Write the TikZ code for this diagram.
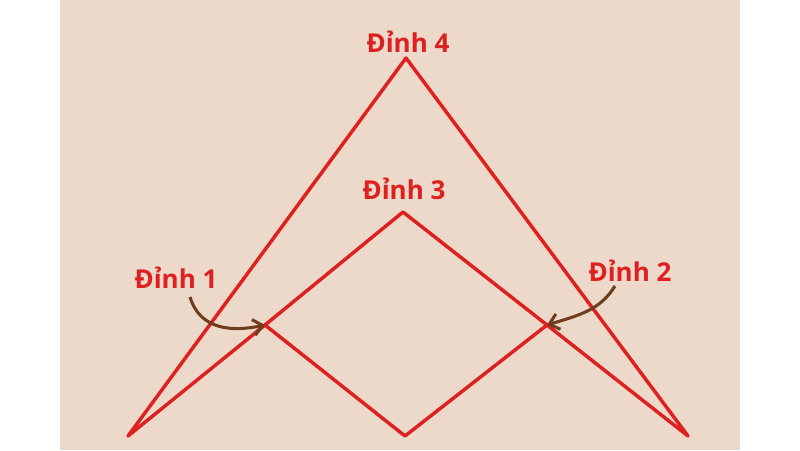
\documentclass[tikz,border=0pt]{standalone}
\usepackage{fontspec}
\setmainfont{Open Sans}
\usetikzlibrary{arrows.meta}
\definecolor{bg}{RGB}{236,217,202}
\definecolor{redl}{RGB}{222,32,32}
\definecolor{brownl}{RGB}{112,62,28}
\tikzset{
  edge/.style={draw=redl,line width=2.6pt,line join=round},
  lbl/.style={text=redl,font=\bfseries\fontsize{19.5}{22}\selectfont,inner sep=0pt},
  pointer/.style={draw=brownl,line width=2.3pt,-{Straight Barb[length=7pt,width=12pt,line width=2.3pt]}}
}
\begin{document}
\begin{tikzpicture}[x=0.75pt,y=-0.75pt]
\useasboundingbox (0,0) rectangle (800,450);
\fill[white] (0,0) rectangle (800,450);
\fill[bg] (60,0) rectangle (740,450);
\coordinate (LB) at (128,436);
\coordinate (MB) at (405,436);
\coordinate (RB) at (688,436);
\coordinate (V4) at (406,58);
\coordinate (V3) at (403,212);
\coordinate (V1) at (265,325);
\coordinate (V2) at (547,325);
\draw[edge] (LB) -- (V4) -- (RB) -- (V2) -- (MB) -- (V1) -- cycle;
\draw[edge] (V1) -- (V3) -- (V2);
\node[lbl] (t4) at (408,42) {Đỉnh 4};
\node[lbl] (t3) at (404,189) {Đỉnh 3};
\node[lbl] (t1) at (176,278) {Đỉnh 1};
\node[lbl] (t2) at (630,271) {Đỉnh 2};
\coordinate (a1) at (190,297);
\coordinate (a2) at (615,286);
\draw[pointer] (a1) .. controls (200,330) and (232,332) .. (V1);
\draw[pointer] (a2) .. controls (600,310) and (580,315) .. (V2);
\end{tikzpicture}
\end{document}
